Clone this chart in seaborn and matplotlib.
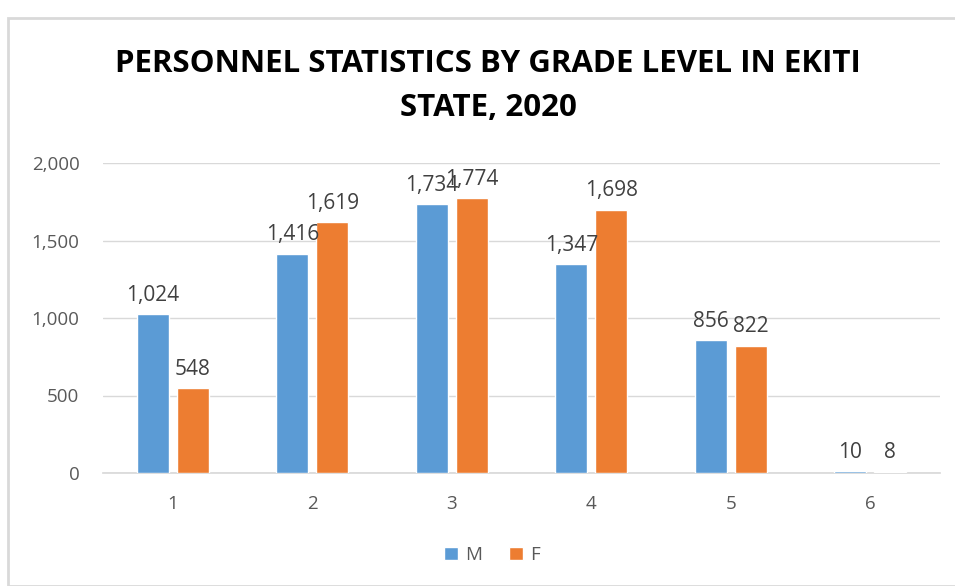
import matplotlib
matplotlib.use("Agg")
import matplotlib.pyplot as plt
import seaborn as sns
import pandas as pd
from matplotlib.patches import Rectangle, Patch

grades = ["1", "2", "3", "4", "5", "6"]
male = [1024, 1416, 1734, 1347, 856, 10]
female = [548, 1619, 1774, 1698, 822, 8]
series = ["M", "F"]
yticks = [0, 500, 1000, 1500, 2000]
title = "PERSONNEL STATISTICS BY GRADE LEVEL IN EKITI\nSTATE, 2020"

df = pd.DataFrame({
    "grade": grades * 2,
    "value": male + female,
    "sex": [series[0]] * len(grades) + [series[1]] * len(grades),
})

sns.set_theme(style="white")
plt.rcParams['font.family'] = ['Open Sans', 'DejaVu Sans']

fig = plt.figure(figsize=(9.55, 5.86), dpi=100)
ax = fig.add_axes([103/955, 1-473/586, 837/955, 310/586])

colors = {"M": "#5B9BD5", "F": "#ED7D31"}
sns.barplot(data=df, x="grade", y="value", hue="sex", palette=colors,
            width=0.574, gap=0.2, ax=ax, legend=False, saturation=1, zorder=3)

ax.set_ylim(0, 2000)
ax.set_yticks(yticks)
ax.set_yticklabels([f"{v:,}" for v in yticks])
ax.yaxis.grid(True, color="#D9D9D9", linewidth=1)
ax.set_axisbelow(True)
for s in ["top", "right", "left"]:
    ax.spines[s].set_visible(False)
ax.spines["bottom"].set_color("#D9D9D9")
ax.spines["bottom"].set_zorder(1)
ax.set_xlabel("")
ax.set_ylabel("")
ax.tick_params(axis="both", length=0, labelsize=13.5, colors="#595959")
ax.tick_params(axis="x", pad=16)
ax.tick_params(axis="y", pad=17)
ax.set_xlim(-0.5, 5.5)

for cont in ax.containers:
    labels = [f"{int(b.get_height()):,}" for b in cont]
    ax.bar_label(cont, labels=labels, padding=6, fontsize=15, color="#404040")

fig.text(488/955, 1-86/586, title, ha="center", va="center", fontsize=22.5,
         fontweight="bold", color="black", linespacing=1.6)

handles = [Patch(facecolor=colors[s], label=s) for s in series]
fig.legend(handles=handles, loc="center", bbox_to_anchor=(492/955, 1-555/586),
           ncol=2, frameon=False, fontsize=13.5, handlelength=0.75, handleheight=0.75,
           handletextpad=0.4, columnspacing=1.4, labelcolor="#595959")

fig.patches.append(Rectangle((8/955, 0), 1.0, 1-18/586, transform=fig.transFigure,
                             fill=False, edgecolor="#D9D9D9", linewidth=2))

fig.savefig("out.png", dpi=100)
